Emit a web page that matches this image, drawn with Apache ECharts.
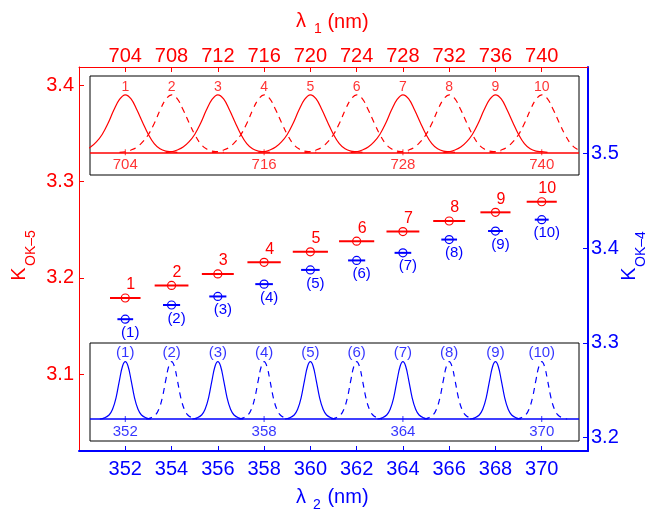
<!DOCTYPE html>
<html>
<head>
<meta charset="utf-8">
<script src="https://cdn.jsdelivr.net/npm/echarts@6/dist/echarts.min.js"></script>
<style>
  html, body { margin: 0; padding: 0; background: #fff; }
  #chart { width: 661px; height: 512px; }
</style>
</head>
<body>
<div id="chart"></div>
<script>
// --- data ---
const lambda2 = [352, 354, 356, 358, 360, 362, 364, 366, 368, 370];
const kOk5 = [3.179, 3.192, 3.204, 3.216, 3.227, 3.238, 3.248, 3.259, 3.268, 3.279];
const kOk5HalfWidth = [0.66, 0.73, 0.69, 0.72, 0.76, 0.76, 0.71, 0.69, 0.65, 0.65];
const kOk4 = [3.325, 3.340, 3.349, 3.362, 3.377, 3.387, 3.395, 3.409, 3.418, 3.430];
const kOk4HalfWidth = [0.34, 0.37, 0.37, 0.38, 0.40, 0.37, 0.36, 0.34, 0.32, 0.30];
const redLabels = ['1', '2', '3', '4', '5', '6', '7', '8', '9', '10'];
const blueLabels = ['(1)', '(2)', '(3)', '(4)', '(5)', '(6)', '(7)', '(8)', '(9)', '(10)'];

// inset spectra: peak positions and one measured line shape per colour
const redPeaks = [704, 708, 712, 716, 720, 724, 728, 732, 736, 740];
const redShapeOffset = [-4.5, -4, -3.5, -3, -2.5, -2, -1.5, -1, -0.5, 0, 0.5, 1, 1.5, 2, 2.5, 3, 3.5, 4, 4.5];
const redShapeLevel = [0, 0.01, 0.04, 0.09, 0.18, 0.31, 0.50, 0.73, 0.92, 1, 0.93, 0.74, 0.52, 0.31, 0.15, 0.06, 0.02, 0.01, 0];
const bluePeaks = [352, 354, 356, 358, 360, 362, 364, 366, 368, 370];
const blueShapeOffset = [-1.1, -0.9, -0.7, -0.55, -0.4, -0.25, -0.12, 0, 0.12, 0.25, 0.4, 0.55, 0.7, 0.9, 1.1];
const blueShapeLevel = [0, 0.02, 0.07, 0.17, 0.37, 0.68, 0.92, 1, 0.92, 0.68, 0.37, 0.17, 0.07, 0.02, 0];

// tick labels
const lambda1Ticks = [704, 708, 712, 716, 720, 724, 728, 732, 736, 740];
const lambda2Ticks = [352, 354, 356, 358, 360, 362, 364, 366, 368, 370];
const kOk5Ticks = [3.1, 3.2, 3.3, 3.4];
const kOk4Ticks = [3.2, 3.3, 3.4, 3.5];
const insetRedTicks = [704, 716, 728, 740];
const insetBlueTicks = [352, 358, 364, 370];

const RED = '#ff0000';
const BLUE = '#0000ff';
const FONT = '"Liberation Sans", Arial, sans-serif';

const chart = echarts.init(document.getElementById('chart'));

const mainAxis = (color, ticks, pos, extra) => Object.assign({
  type: 'value',
  position: pos,
  splitLine: { show: false },
  axisLine: { show: true, onZero: false, lineStyle: { color: color, width: 1 } },
  axisTick: { show: true, inside: true, length: 5, customValues: ticks, lineStyle: { color: color } },
  axisLabel: { customValues: ticks, color: color, fontSize: 20, fontFamily: FONT }
}, extra);

const spectra = (peaks, offsets, levels, color, idx) => peaks.map((p, i) => ({
  type: 'line',
  xAxisIndex: idx, yAxisIndex: idx,
  symbol: 'none', silent: true, smooth: 0.4, z: 3,
  lineStyle: { color: color, width: 1.2, type: i % 2 ? [6, 5] : 'solid' },
  data: offsets.map((o, j) => [p + o, levels[j]]),
  // zero line of the inset
  markLine: i ? undefined : {
    silent: true, symbol: 'none', label: { show: false },
    lineStyle: { color: color, width: 1.5, type: 'solid' },
    data: [{ yAxis: 0 }]
  }
}));

const peakLabels = (peaks, labels, color, size, idx) => ({
  type: 'scatter',
  xAxisIndex: idx, yAxisIndex: idx,
  symbolSize: 0, silent: true, z: 4,
  label: { show: true, position: 'top', distance: 1, color: color, fontSize: size, fontFamily: FONT,
           formatter: (p) => labels[p.dataIndex] },
  data: peaks.map(p => [p, 1])
});

// tick marks + labels sitting on the inset zero line
const insetTicks = (ticks, color, idx) => ({
  type: 'scatter',
  xAxisIndex: idx, yAxisIndex: idx,
  symbol: 'rect', symbolSize: [1, 6], silent: true, z: 4,
  itemStyle: { color: color },
  label: { show: true, position: 'bottom', distance: 2, color: color, fontSize: 15, fontFamily: FONT,
           formatter: (p) => String(ticks[p.dataIndex]) },
  data: ticks.map(t => [t, 0])
});

const errorBars = (ys, hws, labels, color, yIdx, dx, dy, size) => ({
  type: 'custom',
  xAxisIndex: 0, yAxisIndex: yIdx, z: 5,
  data: lambda2.map((x, i) => [x, ys[i], hws[i], i]),
  encode: { x: 0, y: 1 },
  renderItem: (params, api) => {
    const x = api.value(0), y = api.value(1), hw = api.value(2);
    const a = api.coord([x - hw, y]);
    const b = api.coord([x + hw, y]);
    const c = api.coord([x, y]);
    return {
      type: 'group',
      children: [
        { type: 'line', shape: { x1: a[0], y1: a[1], x2: b[0], y2: b[1] },
          style: { stroke: color, lineWidth: 2 } },
        { type: 'circle', shape: { cx: c[0], cy: c[1], r: 4 },
          style: { fill: 'none', stroke: color, lineWidth: 1.2 } },
        { type: 'text', x: c[0] + dx, y: c[1] + dy,
          style: { text: labels[api.value(3)], fill: color, fontSize: size, fontFamily: FONT,
                   align: 'center', verticalAlign: 'middle' } }
      ]
    };
  }
});

const txt = (s, x, y, color, size, rot) => ({
  type: 'text', x: x, y: y, rotation: rot || 0,
  style: { text: s, fill: color, fontSize: size, fontFamily: FONT, align: 'center', verticalAlign: 'middle' }
});

chart.setOption({
  animation: false,
  backgroundColor: '#fff',
  grid: [
    { left: 79, right: 73, top: 67, bottom: 61 },
    { left: 90, right: 82, top: 76, bottom: 337, show: true, borderColor: '#000', borderWidth: 1, backgroundColor: '#fff', z: 1 },
    { left: 90, right: 82, top: 343, bottom: 71, show: true, borderColor: '#000', borderWidth: 1, backgroundColor: '#fff', z: 1 }
  ],
  xAxis: [
    mainAxis(BLUE, lambda2Ticks, 'bottom', { gridIndex: 0, min: 350, max: 372,
      axisLine: { show: true, onZero: false, lineStyle: { color: BLUE, width: 2 } },
      axisLabel: { customValues: lambda2Ticks, color: BLUE, fontSize: 20, fontFamily: FONT, margin: 8 } }),
    mainAxis(RED, lambda1Ticks, 'top', { gridIndex: 0, min: 700, max: 744,
      axisLabel: { customValues: lambda1Ticks, color: RED, fontSize: 20, fontFamily: FONT, margin: 1 } }),
    { type: 'value', gridIndex: 1, min: 700.95, max: 743.22, show: false },
    { type: 'value', gridIndex: 2, min: 350.475, max: 371.611, show: false }
  ],
  yAxis: [
    mainAxis(RED, kOk5Ticks, 'left', { gridIndex: 0, min: 3.02, max: 3.419,
      axisLabel: { customValues: kOk5Ticks, color: RED, fontSize: 20, fontFamily: FONT, margin: 5 } }),
    mainAxis(BLUE, kOk4Ticks, 'right', { gridIndex: 0, min: 3.186, max: 3.591,
      axisLine: { show: true, onZero: false, lineStyle: { color: BLUE, width: 2 } },
      axisLabel: { customValues: kOk4Ticks, color: BLUE, fontSize: 20, fontFamily: FONT, margin: 3 } }),
    { type: 'value', gridIndex: 1, min: -0.395, max: 1.327, show: false },
    { type: 'value', gridIndex: 2, min: -0.384, max: 1.326, show: false }
  ],
  graphic: [
    txt('λ', 301, 21.5, RED, 20), txt('1', 318, 29.5, RED, 14), txt('(nm)', 348, 22, RED, 20),
    txt('λ', 301, 497, BLUE, 20), txt('2', 317, 505, BLUE, 14), txt('(nm)', 348, 497.5, BLUE, 20),
    txt('K', 19, 274, RED, 20, Math.PI / 2), txt('OK–5', 31, 248, RED, 14, Math.PI / 2),
    txt('K', 629, 274, BLUE, 20, Math.PI / 2), txt('OK–4', 641, 249, BLUE, 14, Math.PI / 2)
  ],
  series: [
    ...spectra(redPeaks, redShapeOffset, redShapeLevel, RED, 2),
    ...spectra(bluePeaks, blueShapeOffset, blueShapeLevel, BLUE, 3),
    peakLabels(redPeaks, redLabels, RED, 14, 2),
    peakLabels(bluePeaks, blueLabels, BLUE, 15, 3),
    insetTicks(insetRedTicks, RED, 2),
    insetTicks(insetBlueTicks, BLUE, 3),
    errorBars(kOk5, kOk5HalfWidth, redLabels, RED, 0, 5.5, -13, 16),
    errorBars(kOk4, kOk4HalfWidth, blueLabels, BLUE, 1, 5, 13.5, 15)
  ]
});
</script>
</body>
</html>
